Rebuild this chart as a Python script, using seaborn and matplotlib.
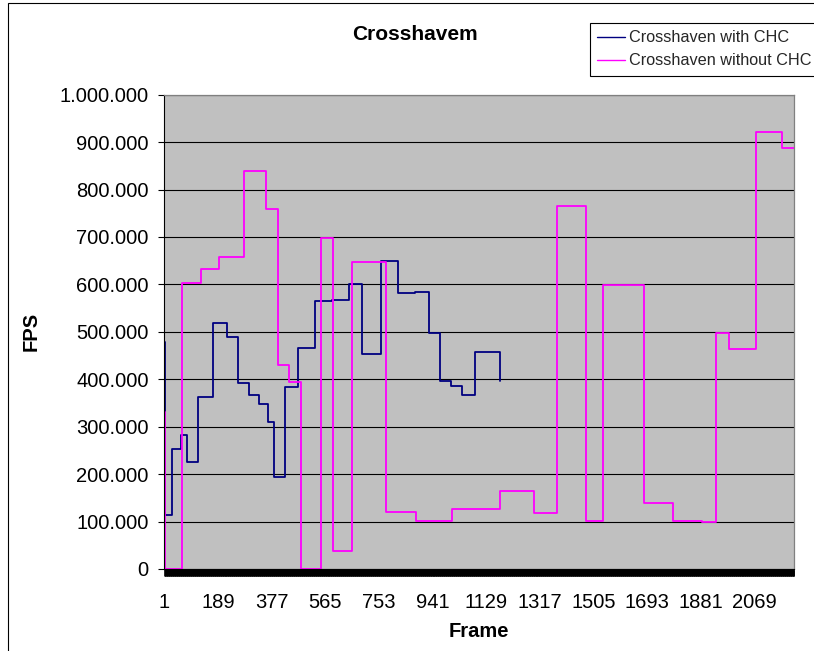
import matplotlib
matplotlib.use("Agg")
import matplotlib.pyplot as plt
from matplotlib.patches import Rectangle
from matplotlib.ticker import FixedLocator, FuncFormatter
import numpy as np
import pandas as pd
import seaborn as sns

# step breakpoints: each value holds until the next frame listed
with_frames = [1, 2, 29, 58, 79, 120, 170, 220, 260, 298, 333, 363, 386, 424,
               471, 529, 590, 648, 693, 759, 819, 880, 928, 967, 1006, 1045,
               1089, 1179]
with_fps = [479000, 113000, 253000, 282000, 226000, 363000, 519000, 490000,
            393000, 366000, 347000, 310000, 194000, 384000, 465000, 566000,
            568000, 601000, 453000, 650000, 582000, 585000, 498000, 396000,
            386000, 366000, 457000, 396000]

without_frames = [1, 2, 62, 128, 194, 281, 356, 401, 439, 480, 551, 591, 658,
                  778, 883, 1011, 1178, 1298, 1376, 1479, 1540, 1681, 1784,
                  1884, 1934, 1981, 2075, 2165, 2208]
without_fps = [331000, 0, 604000, 633000, 658000, 840000, 760000, 431000,
               395000, 0, 698000, 39000, 648000, 120000, 101000, 127000,
               165000, 118000, 766000, 101000, 599000, 139000, 101000, 99000,
               498000, 463000, 921000, 887000, 887000]

label_frames = [1, 189, 377, 565, 753, 941, 1129, 1317, 1505, 1693, 1881, 2069]
last_frame = 2208
fps_ticks = [0, 100000, 200000, 300000, 400000, 500000, 600000, 700000,
             800000, 900000, 1000000]

series_names = ["Crosshaven with CHC", "Crosshaven without CHC"]
series_colors = {"Crosshaven with CHC": "#000080",
                 "Crosshaven without CHC": "#FF00FF"}

df = pd.concat([
    pd.DataFrame({"Frame": with_frames, "FPS": with_fps,
                  "series": series_names[0]}),
    pd.DataFrame({"Frame": without_frames, "FPS": without_fps,
                  "series": series_names[1]}),
], ignore_index=True)

sns.set_theme(style="white")
plt.rcParams["font.family"] = ["Liberation Sans", "DejaVu Sans"]

W, H = 814, 651
fig = plt.figure(figsize=(W / 100, H / 100), dpi=100)
ax = fig.add_axes([164.3 / W, 82 / H, 629.7 / W, 474.3 / H])
ax.set_facecolor("#C0C0C0")

sns.lineplot(data=df, x="Frame", y="FPS", hue="series",
             hue_order=series_names, palette=series_colors,
             drawstyle="steps-post", estimator=None, linewidth=1.3, ax=ax)

ax.set_xlim(1, last_frame)
ax.set_ylim(0, 1000000)
ax.set_yticks(fps_ticks)
ax.yaxis.set_major_formatter(
    FuncFormatter(lambda v, _: f"{int(v):,}".replace(",", ".")))
ax.set_xticks(label_frames)
ax.set_xticklabels([str(f) for f in label_frames])
# Excel draws a tick for every category -> solid black band
ax.xaxis.set_minor_locator(FixedLocator(np.arange(1, last_frame + 1)))

ax.tick_params(axis="x", which="both", direction="out", length=5, width=0.6,
               color="black", bottom=True)
ax.tick_params(axis="x", which="major", labelsize=14.5, pad=12,
               labelcolor="black")
ax.tick_params(axis="y", direction="out", length=4.3, width=0.8,
               color="black", left=True, labelsize=14.5, pad=7,
               labelcolor="black")

ax.grid(axis="y", color="black", linewidth=0.8)
ax.grid(axis="x", visible=False)
ax.set_axisbelow(True)

for side in ["top", "right"]:
    ax.spines[side].set_color("#808080")
    ax.spines[side].set_linewidth(0.9)
for side in ["left", "bottom"]:
    ax.spines[side].set_color("black")
    ax.spines[side].set_linewidth(0.8)

ax.set_xlabel("Frame", fontsize=14.5, fontweight="bold", color="black")
ax.xaxis.set_label_coords(0.5, -0.111)
ax.set_ylabel("FPS", fontsize=14.5, fontweight="bold", color="black")
ax.yaxis.set_label_coords(-0.196, 0.5)

fig.text(415 / W, 1 - 35 / H, "Crosshavem", ha="center", va="center",
         fontsize=15, fontweight="bold", color="black")

sns.move_legend(ax, "upper left", bbox_to_anchor=(590 / W, 1 - 23 / H),
                bbox_transform=fig.transFigure, title=None, frameon=True,
                fancybox=False, edgecolor="black", fontsize=11.7,
                handlelength=1.7, handletextpad=0.25, borderpad=0.45,
                labelspacing=0.5, borderaxespad=0, framealpha=1)
leg = ax.get_legend()
leg.get_frame().set_linewidth(0.8)
for line in leg.get_lines():
    line.set_linewidth(1.0)

# chart area border (runs off the right and bottom edges)
fig.add_artist(Rectangle((8 / W, -0.05), 1.0, 1 - 3 / H + 0.05,
                         transform=fig.transFigure, fill=False,
                         edgecolor="black", linewidth=0.8))

fig.savefig("out.png", dpi=100)
